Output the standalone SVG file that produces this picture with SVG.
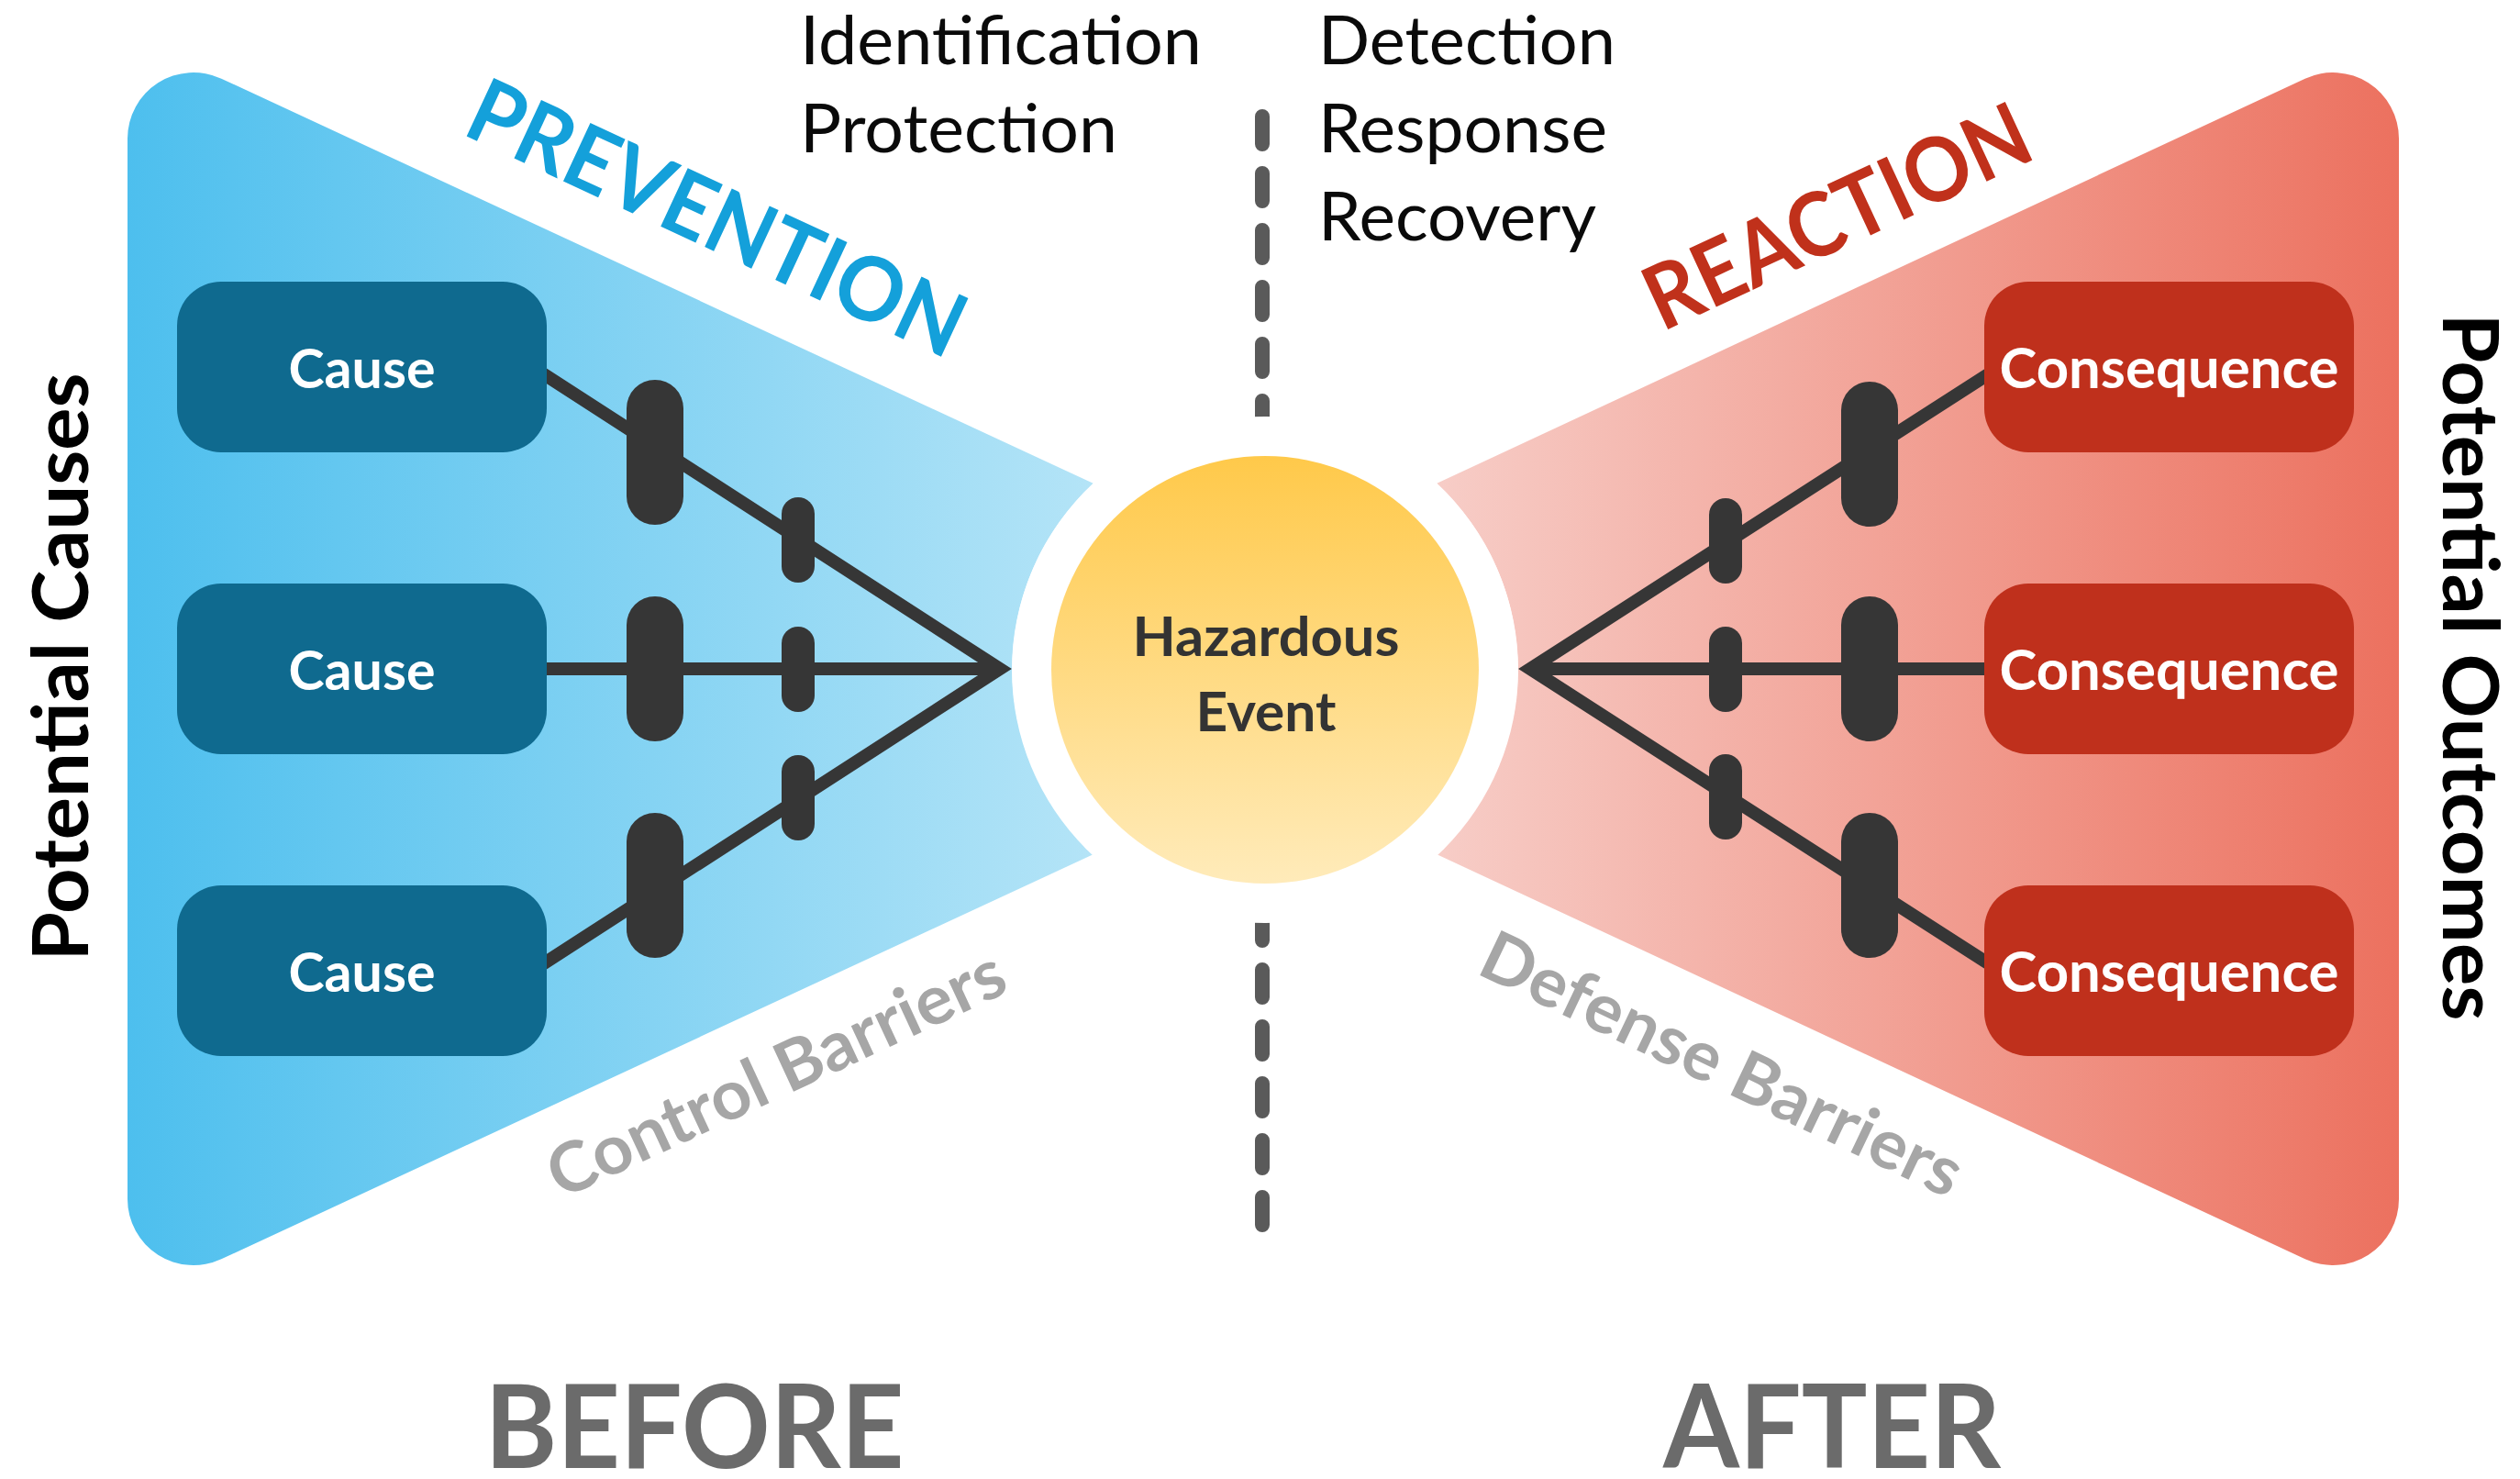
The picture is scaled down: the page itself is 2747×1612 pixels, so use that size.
<svg xmlns="http://www.w3.org/2000/svg" width="2747" height="1612" viewBox="0 0 2747 1612">
  <defs>
    <linearGradient id="gLeft" gradientUnits="userSpaceOnUse" x1="139" y1="0" x2="1192" y2="0">
      <stop offset="0" stop-color="#4DBFEE"/>
      <stop offset="1" stop-color="#B4E4F7"/>
    </linearGradient>
    <linearGradient id="gRight" gradientUnits="userSpaceOnUse" x1="1566" y1="0" x2="2615" y2="0">
      <stop offset="0" stop-color="#F7CDC7"/>
      <stop offset="1" stop-color="#EC715F"/>
    </linearGradient>
    <linearGradient id="gHaz" x1="0" y1="0" x2="0" y2="1">
      <stop offset="0" stop-color="#FFC94A"/>
      <stop offset="1" stop-color="#FFEBBA"/>
    </linearGradient>
    <style>
      .box-cause { fill: #0F6A8F; }
      .box-cons { fill: #BF301C; }
      .node-label { font-family: Lato, "Liberation Sans", sans-serif; font-weight: 700; fill: #FFFFFF; text-anchor: middle; }
      .haz-label { font-family: Lato, "Liberation Sans", sans-serif; font-weight: 700; fill: #333333; text-anchor: middle; font-size: 60px; }
      .conn { stroke: #363636; stroke-width: 14; fill: none; stroke-linejoin: miter; stroke-miterlimit: 10; }
      .barrier { fill: #363636; }
      .phase { font-family: Lato, "Liberation Sans", sans-serif; font-size: 74px; fill: #0A0A0A; }
      .side { font-family: Lato, "Liberation Sans", sans-serif; font-weight: 700; font-size: 85px; fill: #000000; text-anchor: middle; }
      .big { font-family: Lato, "Liberation Sans", sans-serif; font-weight: 700; font-size: 127px; fill: #6B6B6B; text-anchor: middle; }
      .barrier-label { font-family: Lato, "Liberation Sans", sans-serif; font-weight: 700; font-size: 75px; fill: #A6A6A6; text-anchor: middle; }
      .title { font-family: Lato, "Liberation Sans", sans-serif; font-weight: 700; font-size: 97px; text-anchor: middle; }
    </style>
  </defs>

  <g id="wing-prevention">
    <path fill="url(#gLeft)" d="M139,1307 L139,151 A72,72 0 0 1 241.3,85.7 L1191.6,526.8 A276,276 0 0 0 1191.6,931.2 L241.3,1372.3 A72,72 0 0 1 139,1307 Z"/>
  </g>
  <g id="wing-reaction">
    <path fill="url(#gRight)" d="M2615,151 L2615,1307 A72,72 0 0 1 2512.7,1372.3 L1566.4,931.2 A276,276 0 0 0 1566.4,526.8 L2512.7,85.7 A72,72 0 0 1 2615,151 Z"/>
  </g>

  <g id="divider">
    <line x1="1376" y1="127" x2="1376" y2="1336" stroke="#5A5A5A" stroke-width="16" stroke-linecap="round" stroke-dasharray="30 32"/>
    <circle cx="1379" cy="730" r="276" fill="#FFFFFF"/>
  </g>

  <g id="connectors">
    <path class="conn" d="M570,393.2 L1090,729 L570,1064.8"/>
    <line class="conn" x1="570" y1="729" x2="1090" y2="729"/>
    <path class="conn" d="M2190,393.3 L1668,729 L2190,1064.7"/>
    <line class="conn" x1="1668" y1="729" x2="2190" y2="729"/>
  </g>

  <g id="barriers">
    <rect class="barrier" x="683" y="414" width="62" height="158" rx="31"/>
    <rect class="barrier" x="683" y="650" width="62" height="158" rx="31"/>
    <rect class="barrier" x="683" y="886" width="62" height="158" rx="31"/>
    <rect class="barrier" x="852" y="542" width="36" height="93" rx="18"/>
    <rect class="barrier" x="852" y="683" width="36" height="93" rx="18"/>
    <rect class="barrier" x="852" y="823" width="36" height="93" rx="18"/>
    <rect class="barrier" x="1863" y="543" width="36" height="93" rx="18"/>
    <rect class="barrier" x="1863" y="683" width="36" height="93" rx="18"/>
    <rect class="barrier" x="1863" y="822" width="36" height="93" rx="18"/>
    <rect class="barrier" x="2007" y="416" width="62" height="158" rx="31"/>
    <rect class="barrier" x="2007" y="650" width="62" height="158" rx="31"/>
    <rect class="barrier" x="2007" y="886" width="62" height="158" rx="31"/>
  </g>

  <g id="hazardous-event">
    <circle cx="1379" cy="730" r="233" fill="url(#gHaz)"/>
    <text class="haz-label" x="1380" y="715" textLength="291" lengthAdjust="spacingAndGlyphs">Hazardous</text>
    <text class="haz-label" x="1380" y="797" textLength="153" lengthAdjust="spacingAndGlyphs">Event</text>
  </g>

  <g id="cause-1">
    <rect class="box-cause" x="193" y="307" width="403" height="186" rx="48"/>
    <text class="node-label" x="394.5" y="423" font-size="60" textLength="160" lengthAdjust="spacingAndGlyphs">Cause</text>
  </g>
  <g id="cause-2">
    <rect class="box-cause" x="193" y="636" width="403" height="186" rx="48"/>
    <text class="node-label" x="394.5" y="752" font-size="60" textLength="160" lengthAdjust="spacingAndGlyphs">Cause</text>
  </g>
  <g id="cause-3">
    <rect class="box-cause" x="193" y="965" width="403" height="186" rx="48"/>
    <text class="node-label" x="394.5" y="1081" font-size="60" textLength="160" lengthAdjust="spacingAndGlyphs">Cause</text>
  </g>

  <g id="consequence-1">
    <rect class="box-cons" x="2163" y="307" width="403" height="186" rx="48"/>
    <text class="node-label" x="2364.5" y="423" font-size="61" textLength="370" lengthAdjust="spacingAndGlyphs">Consequence</text>
  </g>
  <g id="consequence-2">
    <rect class="box-cons" x="2163" y="636" width="403" height="186" rx="48"/>
    <text class="node-label" x="2364.5" y="752" font-size="61" textLength="370" lengthAdjust="spacingAndGlyphs">Consequence</text>
  </g>
  <g id="consequence-3">
    <rect class="box-cons" x="2163" y="965" width="403" height="186" rx="48"/>
    <text class="node-label" x="2364.5" y="1081" font-size="61" textLength="370" lengthAdjust="spacingAndGlyphs">Consequence</text>
  </g>

  <g id="labels">
    <text class="phase" x="872" y="70" textLength="438" lengthAdjust="spacingAndGlyphs">Identification</text>
    <text class="phase" x="872" y="166" textLength="346" lengthAdjust="spacingAndGlyphs">Protection</text>
    <text class="phase" x="1437" y="70" textLength="324" lengthAdjust="spacingAndGlyphs">Detection</text>
    <text class="phase" x="1437" y="166" textLength="315" lengthAdjust="spacingAndGlyphs">Response</text>
    <text class="phase" x="1437" y="262" textLength="303" lengthAdjust="spacingAndGlyphs">Recovery</text>

    <text class="title" fill="#14A0DA" transform="translate(782,237) rotate(24.9)" x="0" y="35" textLength="585" lengthAdjust="spacingAndGlyphs">PREVENTION</text>
    <text class="title" fill="#C0311B" transform="translate(2002,235) rotate(-24.9)" x="0" y="35" textLength="452" lengthAdjust="spacingAndGlyphs">REACTION</text>

    <text class="barrier-label" transform="translate(846,1170) rotate(-24.9)" x="0" y="26" textLength="541" lengthAdjust="spacingAndGlyphs">Control Barriers</text>
    <text class="barrier-label" transform="translate(1877,1160) rotate(25.5)" x="0" y="26" textLength="572" lengthAdjust="spacingAndGlyphs">Defense Barriers</text>

    <text class="side" transform="translate(96,727) rotate(-90)" x="0" y="0" textLength="641" lengthAdjust="spacingAndGlyphs">Potential Causes</text>
    <text class="side" transform="translate(2663,727) rotate(90)" x="0" y="0" textLength="771" lengthAdjust="spacingAndGlyphs">Potential Outcomes</text>

    <text class="big" x="757" y="1600" textLength="457" lengthAdjust="spacingAndGlyphs">BEFORE</text>
    <text class="big" x="1997" y="1600" textLength="368" lengthAdjust="spacingAndGlyphs">AFTER</text>
  </g>
</svg>
